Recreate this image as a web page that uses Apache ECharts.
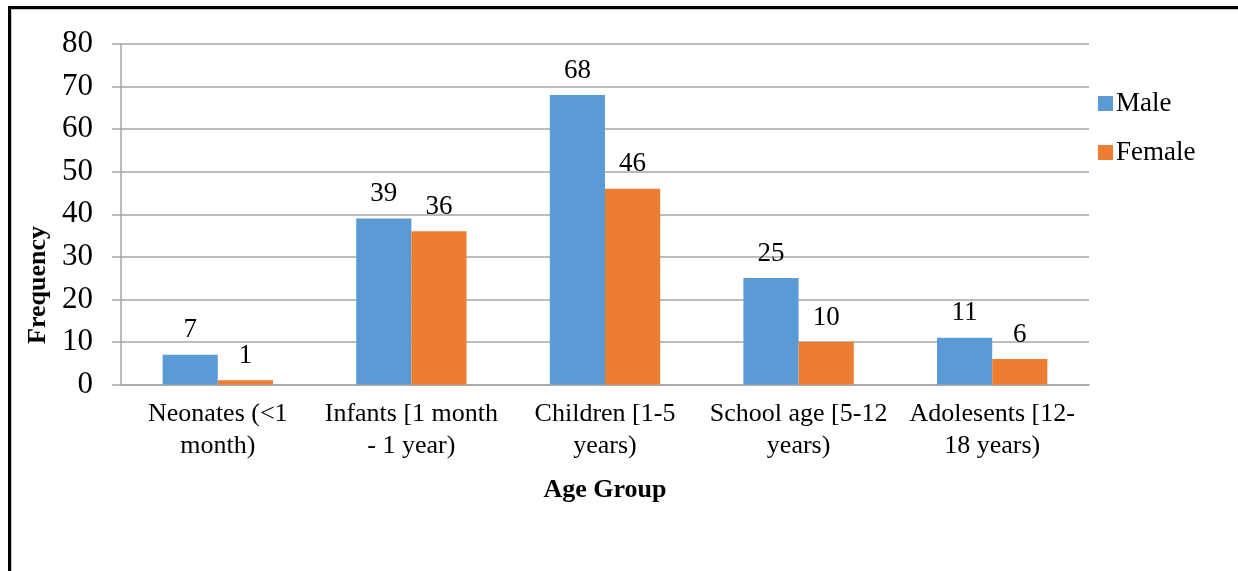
<!DOCTYPE html>
<html>
<head>
<meta charset="utf-8">
<script src="https://cdn.jsdelivr.net/npm/echarts@6/dist/echarts.min.js"></script>
<style>
  html, body { margin: 0; padding: 0; background: #fff; }
  #frame {
    position: absolute; left: 8px; top: 6px; width: 1240px; height: 600px;
    border-left: 3px solid #000; border-top: 3px solid #000;
    box-shadow: inset 1px 1px 0 #c8c8c8;
  }
  #chart { position: absolute; left: 0; top: 0; width: 1238px; height: 571px; }
</style>
</head>
<body>
<div id="frame"></div>
<div id="chart"></div>
<script>
// Age groups on the category axis
const categories = [
  'Neonates (<1\nmonth)',
  'Infants [1 month\n- 1 year)',
  'Children [1-5\nyears)',
  'School age [5-12\nyears)',
  'Adolesents [12-\n18 years)'
];
const maleCounts = [7, 39, 68, 25, 11];
const femaleCounts = [1, 36, 46, 10, 6];
const yTicks = { min: 0, max: 80, interval: 10 };

const serif = "'Liberation Serif', 'Times New Roman', serif";

const chart = echarts.init(document.getElementById('chart'), null, { renderer: 'canvas' });

const labelStyle = {
  show: true,
  position: 'top',
  distance: 11,
  fontFamily: serif,
  fontSize: 27,
  color: '#000'
};

chart.setOption({
  animation: false,
  grid: { left: 121, right: 149, top: 44, bottom: 186.5, containLabel: false },
  legend: {
    orient: 'vertical',
    left: 1093,
    top: 85,
    itemWidth: 15,
    itemHeight: 15,
    itemGap: 22,
    icon: 'rect',
    textStyle: { fontFamily: serif, fontSize: 27, color: '#000', padding: [0, 0, 0, -2] },
    data: ['Male', 'Female']
  },
  // Vertical axis title, set a little below the axis centre
  graphic: [{
    type: 'text',
    x: 38,
    y: 285,
    rotation: Math.PI / 2,
    style: {
      text: 'Frequency',
      font: "bold 26px 'Liberation Serif', 'Times New Roman', serif",
      fill: '#000',
      textAlign: 'center',
      textVerticalAlign: 'middle'
    }
  }],
  xAxis: {
    type: 'category',
    data: categories,
    name: 'Age Group',
    nameLocation: 'middle',
    nameGap: 93,
    nameTextStyle: { fontFamily: serif, fontSize: 26, fontWeight: 'bold', color: '#000' },
    axisLine: { lineStyle: { color: '#a6a6a6', width: 1.5 } },
    axisTick: { show: false },
    axisLabel: {
      fontFamily: serif, fontSize: 26, color: '#000', lineHeight: 32,
      margin: 14, interval: 0
    },
    splitLine: { show: false }
  },
  yAxis: {
    type: 'value',
    min: yTicks.min,
    max: yTicks.max,
    interval: yTicks.interval,
    axisLine: { show: true, lineStyle: { color: '#a6a6a6', width: 1.5 } },
    axisTick: { show: true, inside: false, length: 9, lineStyle: { color: '#a6a6a6', width: 1.5 } },
    axisLabel: { fontFamily: serif, fontSize: 31, color: '#000', margin: 28 },
    splitLine: { lineStyle: { color: '#a6a6a6', width: 1.5 } }
  },
  series: [
    {
      name: 'Male', type: 'bar', data: maleCounts,
      itemStyle: { color: '#5b9bd5' },
      barGap: '0%', barCategoryGap: '43%',
      label: labelStyle
    },
    {
      name: 'Female', type: 'bar', data: femaleCounts,
      itemStyle: { color: '#ed7d31' },
      label: labelStyle
    }
  ]
});
</script>
</body>
</html>
